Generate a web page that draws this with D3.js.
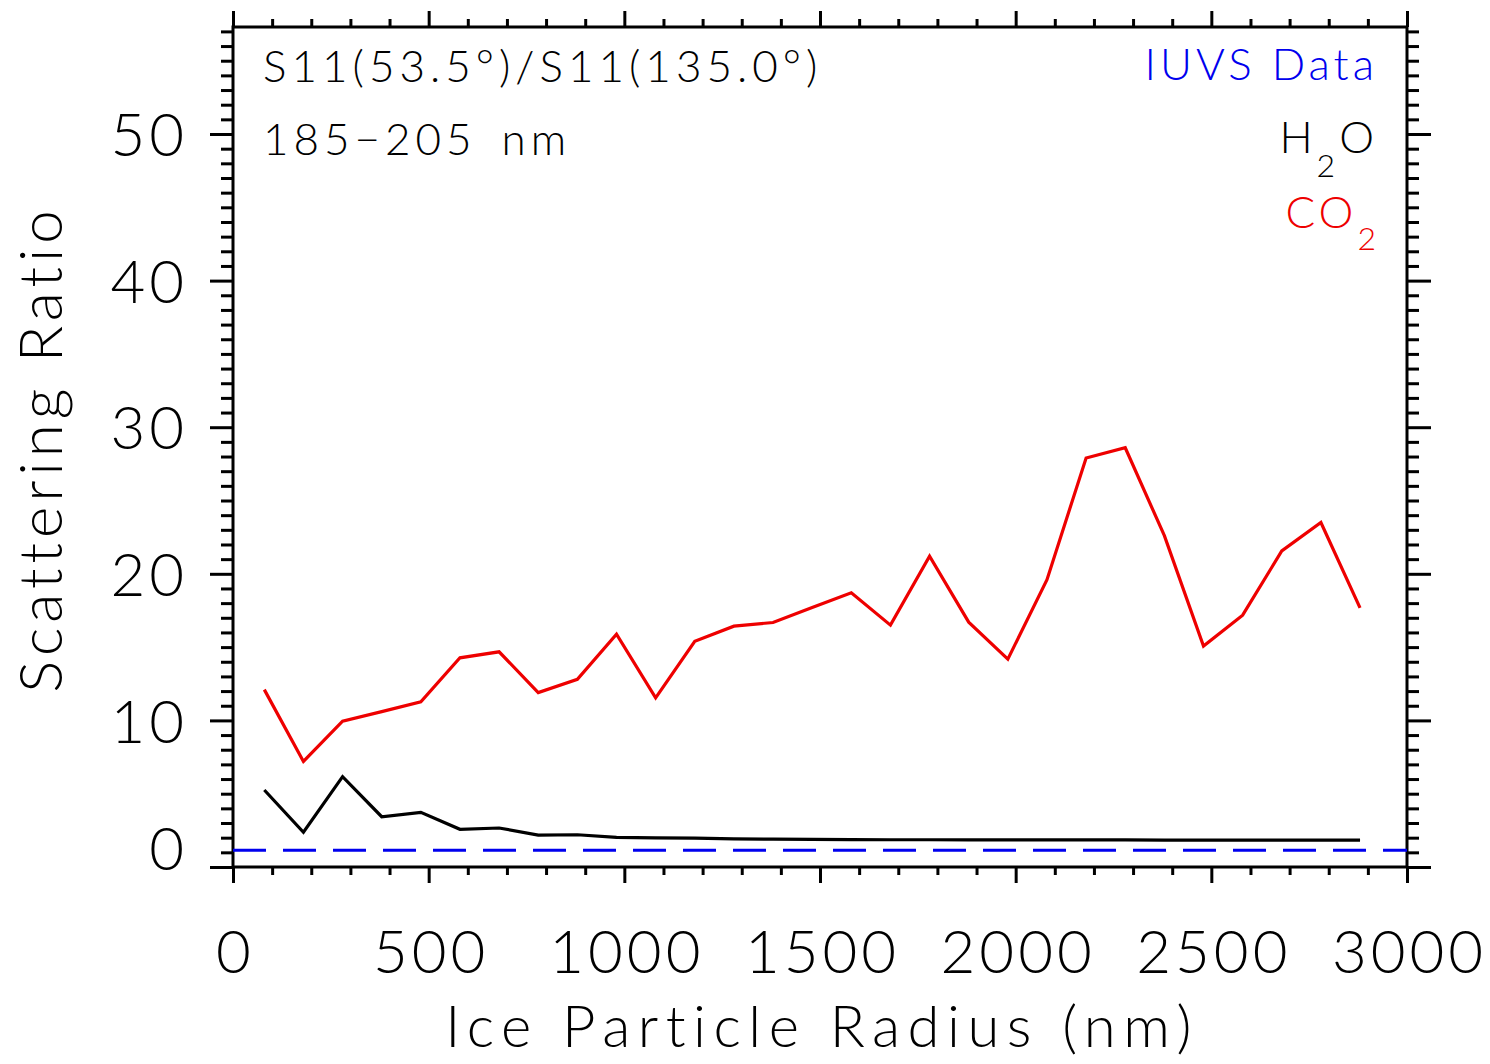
<!DOCTYPE html>
<html>
<head>
<meta charset="utf-8">
<script src="https://cdn.jsdelivr.net/npm/d3@7"></script>
<style>
  body { margin: 0; background: #fff; }
  svg { font-family: Lato, "DejaVu Sans", sans-serif; font-weight: 300; }
  .axis path { display: none; }
  .axis line { stroke: #000; stroke-width: 3px; }
  .axis text { font-size: 60px; fill: #000; font-family: Lato, sans-serif; font-weight: 300; letter-spacing: 4px; }
</style>
</head>
<body>
<svg width="1490" height="1064"></svg>
<script>
// particle radius (nm), centre of each bin
var radius = [80, 180, 280, 380, 480, 580, 680, 780, 880, 980,
  1080, 1180, 1280, 1380, 1480, 1580, 1680, 1780, 1880, 1980,
  2080, 2180, 2280, 2380, 2480, 2580, 2680, 2780, 2880];

// scattering ratio S11(53.5)/S11(135.0)
var co2Ratio = [12.1, 7.2, 9.95, 10.6, 11.27, 14.27, 14.68, 11.9, 12.8, 15.88,
  11.54, 15.4, 16.43, 16.68, 17.7, 18.7, 16.5, 21.2, 16.7, 14.18,
  19.6, 27.9, 28.6, 22.6, 15.07, 17.18, 21.56, 23.5, 17.68];
var h2oRatio = [5.25, 2.37, 6.16, 3.43, 3.73, 2.57, 2.66, 2.18, 2.2, 2.02,
  1.98, 1.97, 1.92, 1.9, 1.88, 1.87, 1.86, 1.86, 1.85, 1.85,
  1.85, 1.85, 1.85, 1.84, 1.84, 1.84, 1.84, 1.84, 1.84];
var iuvsRatio = 1.15;

var xTicks = [0, 500, 1000, 1500, 2000, 2500, 3000];
var yTicks = [0, 10, 20, 30, 40, 50];

var svg = d3.select("svg"),
    margin = {top: 27, right: 83, bottom: 197, left: 233},
    width = +svg.attr("width") - margin.left - margin.right,
    height = +svg.attr("height") - margin.top - margin.bottom;

var x = d3.scaleLinear().domain([0, 3000]).range([0, width]);
var y = d3.scaleLinear().domain([0, 57.3]).range([height, 0]);

var chart = svg.append("g")
    .attr("transform", "translate(" + margin.left + "," + margin.top + ")");

// minor ticks (no labels)
var xMinor = d3.range(0, 3001, 100).filter(function(d) { return d % 500; });
var yMinor = d3.range(0, 58, 1).filter(function(d) { return d % 10; });

chart.append("g").attr("class", "axis")
    .attr("transform", "translate(0," + height + ")")
    .call(d3.axisBottom(x).tickValues(xMinor).tickSize(8).tickFormat(""));
chart.append("g").attr("class", "axis")
    .call(d3.axisTop(x).tickValues(xMinor).tickSize(8).tickFormat(""));
chart.append("g").attr("class", "axis")
    .call(d3.axisLeft(y).tickValues(yMinor).tickSize(12).tickFormat(""));
chart.append("g").attr("class", "axis")
    .attr("transform", "translate(" + width + ",0)")
    .call(d3.axisRight(y).tickValues(yMinor).tickSize(12).tickFormat(""));

// major ticks
var xAxis = chart.append("g").attr("class", "axis")
    .attr("transform", "translate(0," + height + ")")
    .call(d3.axisBottom(x).tickValues(xTicks).tickSize(16).tickPadding(0).tickFormat(d3.format("d")));
xAxis.selectAll("text").attr("dy", 0).attr("y", 106).attr("dx", 2);
chart.append("g").attr("class", "axis")
    .call(d3.axisTop(x).tickValues(xTicks).tickSize(16).tickFormat(""));

var yAxis = chart.append("g").attr("class", "axis")
    .call(d3.axisLeft(y).tickValues(yTicks).tickSize(23).tickPadding(22));
yAxis.selectAll("text").attr("dy", "0.36em")
    .filter(function(d) { return d === 0; })
    .attr("y", -19);
chart.append("g").attr("class", "axis")
    .attr("transform", "translate(" + width + ",0)")
    .call(d3.axisRight(y).tickValues(yTicks).tickSize(24).tickFormat(""));

// frame
chart.append("rect")
    .attr("width", width)
    .attr("height", height)
    .attr("fill", "none")
    .attr("stroke", "#000")
    .attr("stroke-width", 3);

// axis labels
chart.append("text")
    .attr("x", width / 2 + 2)
    .attr("y", height + 180)
    .attr("text-anchor", "middle")
    .attr("font-size", 58)
    .attr("letter-spacing", 7.5)
    .text("Ice Particle Radius (nm)");
chart.append("text")
    .attr("transform", "translate(" + (62 - margin.left) + "," + (height / 2 + 2) + ") rotate(-90)")
    .attr("text-anchor", "middle")
    .attr("font-size", 60)
    .attr("letter-spacing", 5)
    .text("Scattering Ratio");

// IUVS observed ratio
chart.append("line")
    .attr("x1", 0).attr("x2", width)
    .attr("y1", y(iuvsRatio)).attr("y2", y(iuvsRatio))
    .attr("stroke", "#0000ee")
    .attr("stroke-width", 3)
    .attr("stroke-dasharray", "33,17");

var line = d3.line()
    .x(function(d) { return x(d[0]); })
    .y(function(d) { return y(d[1]); });

chart.append("path")
    .datum(d3.zip(radius, h2oRatio))
    .attr("d", line)
    .attr("fill", "none")
    .attr("stroke", "#000")
    .attr("stroke-width", 3.2);

chart.append("path")
    .datum(d3.zip(radius, co2Ratio))
    .attr("d", line)
    .attr("fill", "none")
    .attr("stroke", "#ee0000")
    .attr("stroke-width", 3.2);

// annotations
var note = chart.append("g").attr("font-size", 44).attr("letter-spacing", 5);
note.append("text").attr("x", 30).attr("y", 55).text("S11(53.5°)/S11(135.0°)");
note.append("text").attr("x", 30).attr("y", 128).attr("word-spacing", 8).text("185\u2212205 nm");

var legend = chart.append("g").attr("font-size", 44).attr("text-anchor", "end").attr("letter-spacing", 4);
legend.append("text").attr("x", width - 29).attr("y", 53)
    .attr("fill", "#0000ee").text("IUVS Data");
var h2o = legend.append("text").attr("x", width - 29).attr("y", 126).attr("fill", "#000");
h2o.append("tspan").text("H");
h2o.append("tspan").attr("dy", 24).attr("font-size", 32).text("2");
h2o.append("tspan").attr("dy", -24).text("O");
var co2 = legend.append("text").attr("x", width - 27).attr("y", 201).attr("fill", "#ee0000");
co2.append("tspan").text("CO");
co2.append("tspan").attr("dy", 22).attr("font-size", 32).text("2");
</script>
</body>
</html>
